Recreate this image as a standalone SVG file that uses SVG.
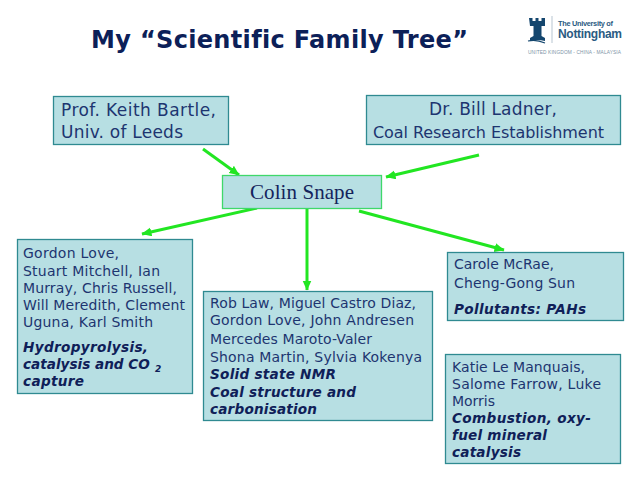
<svg xmlns="http://www.w3.org/2000/svg" width="638" height="479" viewBox="0 0 638 479">
<style>
text{font-variant-ligatures:none}
.box{fill:#b7dfe3;stroke:#2f8a91;stroke-width:1.3}
.t{font-family:"DejaVu Sans",Verdana,sans-serif;fill:#1d3570}
.s{font-size:14px}
.l{font-size:17px}
.b{font-size:13.6px;font-weight:bold;font-style:italic;fill:#0f2058}
.c{stroke:#22e622;stroke-width:3;fill:none;marker-end:url(#a)}
.lg{font-family:"Liberation Sans",Arial,sans-serif}
</style>
<defs><marker id="a" markerUnits="userSpaceOnUse" markerWidth="12" markerHeight="10" refX="9.500" refY="4.500" orient="auto"><path d="M0 0L10 4.500L0 9Z" fill="#22e622"/></marker></defs>
<rect width="638" height="479" fill="#fff"/>
<text id="title" x="91" y="48" textLength="377" font-family="'DejaVu Sans',Verdana,sans-serif" font-weight="bold" font-size="24" fill="#0c2058">My “Scientific Family Tree”</text>
<g id="logo">
<path d="M529 18h3.500v3h3v-3h3v3h3v-3h3.500v8h-3.500v10l3.500 2v3q-8 -2 -15 0v-3l3.500 -2v-10h-3.500z" fill="#14466e"/>
<path d="M528 41q8 -2 17 2" fill="none" stroke="#14466e" stroke-width="1.2"/>
<rect x="551.500" y="16" width="1" height="27" fill="#b8c6d2"/>
<text class="lg" x="558" y="26" textLength="55" font-weight="bold" font-size="7.400" fill="#2b5b82">The University of</text>
<text class="lg" x="558" y="38" textLength="64" font-weight="bold" font-size="12" fill="#2b5b82">Nottingham</text>
<text class="lg" x="528" y="54" textLength="93" font-size="4.800" fill="#7d93a6">UNITED KINGDOM - CHINA - MALAYSIA</text>
</g>
<g id="connectors">
<path class="c" d="M203 149L239 175"/>
<path class="c" d="M479 155L386 177"/>
<path class="c" d="M257 208L142 234"/>
<path class="c" d="M307 209V290"/>
<path class="c" d="M359 211L504 250"/>
</g>
<g id="bartle"><rect class="box" x="53.500" y="96.500" width="175" height="48"/>
<text class="t l" x="61" y="116" textLength="155">Prof. Keith Bartle,</text><text class="t l" x="61" y="138" textLength="122">Univ. of Leeds</text></g>
<g id="ladner"><rect class="box" x="366.500" y="95.500" width="254" height="49"/>
<text class="t l" x="429" y="115" textLength="128">Dr. Bill Ladner,</text><text class="t" font-size="16" x="373" y="138" textLength="231">Coal Research Establishment</text></g>
<g id="snape"><rect x="222.500" y="175.500" width="159" height="33" fill="#b7dfe3" stroke="#3fd86a" stroke-width="1.3"/>
<text x="250" y="199" textLength="104" font-family="'Liberation Serif','Times New Roman',serif" font-size="21" fill="#14245c">Colin Snape</text></g>
<g id="love"><rect class="box" x="17.500" y="239.500" width="175" height="154"/>
<text class="t s" x="23" y="258" textLength="96">Gordon Love,</text>
<text class="t s" x="23" y="276" textLength="137">Stuart Mitchell, Ian</text>
<text class="t s" x="23" y="293" textLength="154">Murray, Chris Russell,</text>
<text class="t s" x="23" y="310" textLength="162">Will Meredith, Clement</text>
<text class="t s" x="23" y="327" textLength="130">Uguna, Karl Smith</text>
<text class="t b" x="23" y="352" textLength="125">Hydropyrolysis,</text>
<text class="t b" x="23" y="369">catalysis and CO<tspan font-size="9" dy="3" dx="2"> 2</tspan></text>
<text class="t b" x="23" y="386" textLength="61">capture</text></g>
<g id="law"><rect class="box" x="203.500" y="291.500" width="229" height="129"/>
<text class="t s" x="210" y="308" textLength="206">Rob Law, Miguel Castro Diaz,</text>
<text class="t s" x="210" y="325" textLength="204">Gordon Love, John Andresen</text>
<text class="t s" x="210" y="344" textLength="162">Mercedes Maroto-Valer</text>
<text class="t s" x="210" y="362" textLength="212">Shona Martin, Sylvia Kokenya</text>
<text class="t b" x="210" y="379" textLength="126">Solid state NMR</text>
<text class="t b" x="210" y="397" textLength="146">Coal structure and</text>
<text class="t b" x="210" y="414" textLength="107">carbonisation</text></g>
<g id="mcrae"><rect class="box" x="447.500" y="252.500" width="176" height="68"/>
<text class="t s" x="454" y="269" textLength="100">Carole McRae,</text>
<text class="t s" x="454" y="288" textLength="121">Cheng-Gong Sun</text>
<text class="t b" x="454" y="314" textLength="132">Pollutants: PAHs</text></g>
<g id="manquais"><rect class="box" x="445.500" y="354.500" width="175" height="109"/>
<text class="t s" x="452" y="372" textLength="133">Katie Le Manquais,</text>
<text class="t s" x="452" y="389" textLength="149">Salome Farrow, Luke</text>
<text class="t s" x="452" y="406" textLength="43">Morris</text>
<text class="t b" x="452" y="423" textLength="139">Combustion, oxy-</text>
<text class="t b" x="452" y="440" textLength="95">fuel mineral</text>
<text class="t b" x="452" y="457" textLength="69">catalysis</text></g>
</svg>
